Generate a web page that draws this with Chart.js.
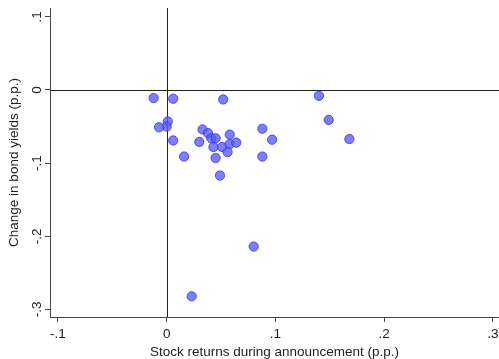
<!DOCTYPE html>
<html>
<head>
<meta charset="utf-8">
<script src="https://cdn.jsdelivr.net/npm/chart.js@4/dist/chart.umd.min.js"></script>
<style>
  html, body { margin: 0; padding: 0; background: #fff; }
  #wrap { width: 499px; height: 359px; }
</style>
</head>
<body>
<div id="wrap"><canvas id="grafico"></canvas></div>
<script>
// stock returns during announcement (p.p.)
const retornos = [-0.012, 0.006, 0.052, 0.001, 0.000, -0.007, 0.033, 0.038, 0.041, 0.045,
  0.058, 0.088, 0.006, 0.030, 0.097, 0.043, 0.051, 0.058, 0.064, 0.056,
  0.016, 0.045, 0.088, 0.049, 0.140, 0.149, 0.168, 0.023, 0.080];
// change in bond yields (p.p.)
const variacoes = [-0.011, -0.012, -0.013, -0.043, -0.050, -0.051, -0.054, -0.059, -0.066, -0.066,
  -0.061, -0.053, -0.069, -0.071, -0.068, -0.078, -0.078, -0.074, -0.072, -0.085,
  -0.091, -0.093, -0.091, -0.117, -0.008, -0.041, -0.067, -0.282, -0.214];

const xTicks = [-0.1, 0, 0.1, 0.2, 0.3];
const xTickLabels = ['-.1', '0', '.1', '.2', '.3'];
const yTicks = [0.1, 0, -0.1, -0.2, -0.3];
const yTickLabels = ['.1', '0', '-.1', '-.2', '-.3'];

const pontos = [];
for (let i = 0; i < retornos.length; i++) {
  pontos.push({ x: retornos[i], y: variacoes[i] });
}

// zero lines + rotated y tick labels
const extras = {
  id: 'extras',
  beforeDatasetsDraw(chart) {
    const ctx = chart.ctx, a = chart.chartArea;
    const x0 = Math.round(chart.scales.x.getPixelForValue(0)) + 0.5;
    const y0 = Math.round(chart.scales.y.getPixelForValue(0)) + 0.5;
    ctx.save();
    ctx.strokeStyle = '#222';
    ctx.lineWidth = 1;
    ctx.beginPath();
    ctx.moveTo(x0, a.top); ctx.lineTo(x0, a.bottom);
    ctx.moveTo(a.left, y0); ctx.lineTo(a.right, y0);
    ctx.stroke();
    ctx.restore();
  },
  afterDraw(chart) {
    const ctx = chart.ctx, sy = chart.scales.y;
    ctx.save();
    ctx.fillStyle = '#222';
    ctx.font = '13.5px "Liberation Sans", Arial, sans-serif';
    ctx.textAlign = 'center';
    ctx.textBaseline = 'middle';
    for (let i = 0; i < yTicks.length; i++) {
      const py = sy.getPixelForValue(yTicks[i]);
      ctx.save();
      ctx.translate(37, py);
      ctx.rotate(-Math.PI / 2);
      ctx.fillText(yTickLabels[i], 0, 0);
      ctx.restore();
    }
    ctx.restore();
  }
};

const fonte = { family: '"Liberation Sans", Arial, sans-serif', size: 13.5, lineHeight: 1 };

new Chart(document.getElementById('grafico'), {
  type: 'scatter',
  data: {
    datasets: [{
      label: 'Anúncios',
      data: pontos,
      backgroundColor: 'rgba(90,90,255,0.78)',
      borderColor: 'rgba(60,60,235,0.9)',
      borderWidth: 1,
      pointRadius: 4.6,
      pointHoverRadius: 4.6
    }]
  },
  options: {
    responsive: true,
    maintainAspectRatio: false,
    animation: false,
    layout: { autoPadding: false, padding: { top: 8, right: 0, left: 0, bottom: 0 } },
    plugins: { legend: { display: false }, tooltip: { enabled: false } },
    scales: {
      x: {
        type: 'linear',
        min: -0.1073,
        max: 0.3056,
        afterBuildTicks(s) { s.ticks = xTicks.map(v => ({ value: v })); },
        afterFit(s) { s.height = 42; s.paddingLeft = 0; s.paddingRight = 0; },
        grid: { drawOnChartArea: false, tickLength: 5, color: '#444' },
        border: { display: true, color: '#444', width: 1 },
        ticks: {
          color: '#222',
          font: fonte,
          padding: 6,
          maxRotation: 0,
          callback: (v) => xTickLabels[xTicks.indexOf(v)]
        },
        title: {
          display: true,
          text: 'Stock returns during announcement (p.p.)',
          color: '#222',
          font: fonte,
          padding: { top: 0, bottom: 0 }
        }
      },
      y: {
        type: 'linear',
        min: -0.3103,
        max: 0.112,
        afterBuildTicks(s) { s.ticks = yTicks.map(v => ({ value: v })); },
        afterFit(s) { s.width = 50; s.paddingTop = 0; s.paddingBottom = 0; },
        grid: { drawOnChartArea: false, tickLength: 5, color: '#444' },
        border: { display: true, color: '#444', width: 1 },
        ticks: { display: false },
        title: {
          display: true,
          text: 'Change in bond yields (p.p.)',
          color: '#222',
          font: fonte,
          padding: { top: 8, bottom: 0 }
        }
      }
    }
  },
  plugins: [extras]
});
</script>
</body>
</html>
